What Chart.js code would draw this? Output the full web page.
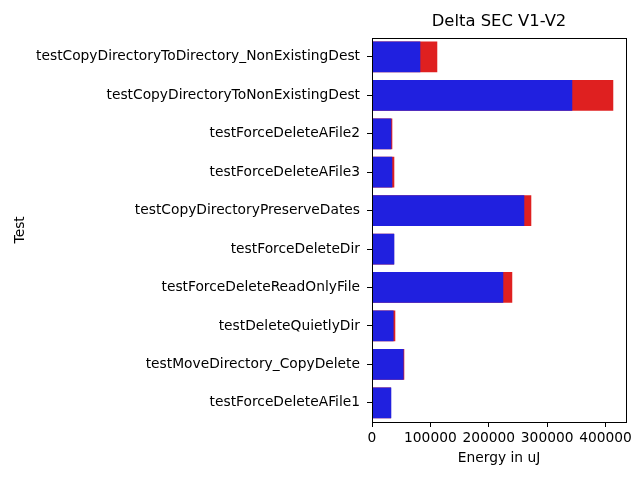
<!DOCTYPE html>
<html>
<head>
<meta charset="utf-8">
<script src="https://cdn.jsdelivr.net/npm/chart.js@4"></script>
<style>
  html, body { margin: 0; padding: 0; background: #fff; }
  #wrap { width: 640px; height: 480px; }
</style>
</head>
<body>
<div id="wrap"><canvas id="grafico"></canvas></div>
<script>
var testes = [
    'testCopyDirectoryToDirectory_NonExistingDest',
    'testCopyDirectoryToNonExistingDest',
    'testForceDeleteAFile2',
    'testForceDeleteAFile3',
    'testCopyDirectoryPreserveDates',
    'testForceDeleteDir',
    'testForceDeleteReadOnlyFile',
    'testDeleteQuietlyDir',
    'testMoveDirectory_CopyDelete',
    'testForceDeleteAFile1'
];
var energia_v1 = [111800, 413200, 34800, 38200, 272800, 37800, 240200, 39900, 55300, 32600];
var energia_v2 = [82700, 343000, 33000, 34800, 260800, 38200, 224800, 37000, 54100, 33000];
var ticks_x = [0, 100000, 200000, 300000, 400000];

Chart.defaults.font.family = 'DejaVu Sans';
Chart.defaults.color = '#000';

// moldura completa em volta da área do gráfico
const moldura = {
    id: 'moldura',
    afterDatasetsDraw(chart) {
        const a = chart.chartArea;
        const ctx = chart.ctx;
        ctx.save();
        ctx.strokeStyle = '#000';
        ctx.lineWidth = 1;
        ctx.strokeRect(Math.round(a.left) + 0.5, Math.round(a.top) + 0.5,
            Math.round(a.right - a.left), Math.round(a.bottom - a.top));
        ctx.restore();
    }
};

const grafico = document.getElementById('grafico');

var myChart = new Chart(grafico, {
    type: 'bar',
    data: {
        labels: testes,
        datasets: [{
            label: 'V2',
            backgroundColor: '#2020df',
            data: energia_v2,
            grouped: false,
            categoryPercentage: 0.8,
            barPercentage: 1
        }, {
            label: 'V1',
            backgroundColor: '#df2020',
            data: energia_v1,
            grouped: false,
            categoryPercentage: 0.8,
            barPercentage: 1
        }]
    },
    options: {
        indexAxis: 'y',
        responsive: true,
        maintainAspectRatio: false,
        animation: false,
        layout: { padding: { left: 0, right: 14, top: 0, bottom: 0 } },
        plugins: {
            legend: { display: false },
            tooltip: { enabled: false },
            title: {
                display: true,
                text: 'Delta SEC V1-V2',
                fullSize: false,
                font: { size: 16.4, weight: 'normal' },
                padding: { top: 12, bottom: 6 }
            }
        },
        scales: {
            x: {
                min: 0,
                max: 435000,
                afterBuildTicks: function (scale) {
                    scale.ticks = ticks_x.map(v => ({ value: v }));
                },
                afterFit: function (scale) { scale.height = 58; },
                ticks: {
                    font: { size: 13.8 },
                    padding: 3,
                    maxRotation: 0,
                    callback: v => String(v)
                },
                grid: { drawOnChartArea: false, tickLength: 5, color: '#000' },
                border: { display: false },
                title: {
                    display: true,
                    text: 'Energy in uJ',
                    font: { size: 13.8 },
                    padding: { top: 4, bottom: 13 }
                }
            },
            y: {
                afterFit: function (scale) { scale.width = 372; },
                ticks: { font: { size: 13.8 }, padding: 7 },
                grid: { drawOnChartArea: false, tickLength: 5, color: '#000', offset: false },
                border: { display: false },
                title: {
                    display: true,
                    text: 'Test',
                    font: { size: 13.8 },
                    padding: { top: 12, bottom: 4 }
                }
            }
        }
    },
    plugins: [moldura]
});
</script>
</body>
</html>
